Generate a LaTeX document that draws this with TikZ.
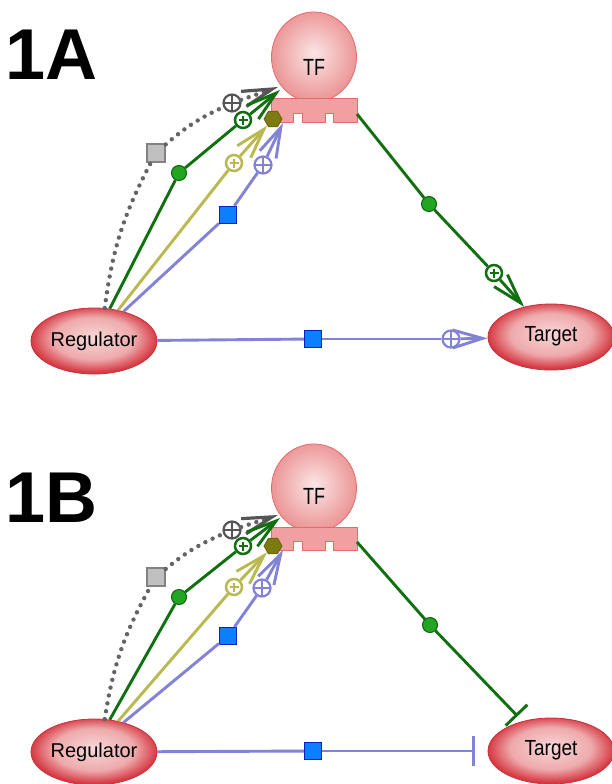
\documentclass[tikz,border=0pt]{standalone}
\usepackage{fontspec}
\setmainfont{Liberation Sans}
\usepackage{graphicx}
\usetikzlibrary{shapes.geometric,arrows.meta}

\definecolor{dgreen}{RGB}{16,112,16}
\definecolor{olv}{RGB}{185,185,80}
\definecolor{lav}{RGB}{130,130,215}
\definecolor{dotgray}{RGB}{100,100,100}
\definecolor{arrgray}{RGB}{85,85,85}
\definecolor{rim}{RGB}{214,58,68}
\definecolor{rimline}{RGB}{200,50,60}
\definecolor{pinkc}{RGB}{248,215,215}
\definecolor{pinkm}{RGB}{238,170,172}
\definecolor{tfrim}{RGB}{236,150,150}
\definecolor{tfc}{RGB}{251,230,230}
\definecolor{tfline}{RGB}{226,108,108}
\definecolor{basefill}{RGB}{240,160,160}
\definecolor{dotfill}{RGB}{34,165,34}
\definecolor{dotline}{RGB}{10,100,10}
\definecolor{sqblue}{RGB}{10,128,255}
\definecolor{sqline}{RGB}{10,30,200}
\definecolor{sqgray}{RGB}{192,192,192}
\definecolor{sqgrayline}{RGB}{130,130,130}
\definecolor{hexfill}{RGB}{125,122,15}
\definecolor{hexline}{RGB}{100,98,10}

\pgfdeclareradialshading{redball}{\pgfpoint{0bp}{3bp}}{color(0bp)=(pinkc); color(16bp)=(pinkm); color(25bp)=(rim); color(50bp)=(rim)}
\pgfdeclareradialshading{tfball}{\pgfpoint{0bp}{2bp}}{color(0bp)=(tfc); color(25bp)=(tfrim); color(50bp)=(tfrim)}

\tikzset{
  ell/.style={ellipse, draw=rimline, line width=0.8pt, shading=redball,
    minimum width=126pt, minimum height=66pt, inner sep=0pt},
  regtext/.style={font=\fontsize{20}{24}\selectfont},
  tfnode/.style={ellipse, draw=tfline, line width=0.8pt, shading=tfball,
    minimum width=85pt, minimum height=90pt, inner sep=0pt},
  tftext/.style={inner sep=0pt, font=\fontsize{18}{20}\selectfont},
  tfbase/.style={draw=tfline, line width=0.8pt, fill=basefill},
  link/.style={line width=2.9pt},
  vee/.style={-{Straight Barb[length=30pt,width=18pt]}},
  tee/.style={-{Bar[width=30pt]}},
  gdot/.style={circle, fill=dotfill, draw=dotline, line width=1pt, minimum size=15pt, inner sep=0pt},
  bsq/.style={rectangle, fill=sqblue, draw=sqline, line width=1.2pt, minimum size=17pt, inner sep=0pt},
  gsq/.style={rectangle, fill=sqgray, draw=sqgrayline, line width=1.4pt, minimum size=18pt, inner sep=0pt},
  hex/.style={regular polygon, regular polygon sides=6, fill=hexfill, draw=hexline, line width=0.8pt, minimum size=18pt, inner sep=0pt},
  cplus/.style={circle, draw=#1, fill=white, line width=2.2pt, minimum size=17pt, inner sep=0pt,
    path picture={\draw[#1, line width=1.8pt] (path picture bounding box.north) -- (path picture bounding box.south) (path picture bounding box.west) -- (path picture bounding box.east);}},
  splus/.style={circle, draw=#1, fill=white, line width=2.5pt, minimum size=16pt, inner sep=0pt,
    path picture={\draw[#1, line width=1.9pt] (path picture bounding box.center) +(0,-4.5) -- +(0,4.5) (path picture bounding box.center) +(-4.5,0) -- +(4.5,0);}},
  dots/.style={dotgray, line width=4.4pt, line cap=round, dash pattern=on 0pt off 8pt},
  grayvee/.style={-{Straight Barb[length=30pt,width=16pt,line width=3.2pt,color=arrgray]}},
  lbl/.style={inner sep=0pt, anchor=base west, font=\fontsize{72}{72}\selectfont\bfseries},
}

\begin{document}
\begin{tikzpicture}[x=1pt,y=-1pt]
\useasboundingbox (0,0) rectangle (611,784);
\fill[white] (0,0) rectangle (611,784);

% ================= Panel 1A =================
\node[lbl] (labA) at (5,80) {1A};

\node[ell] (RegA) at (94,341) {};
\node[regtext] (RegAt) at (RegA.center) {Regulator};
\node[ell] (TarA) at (551,337) {};
\node[regtext] (TarAt) at (551,336) {\fontsize{19}{22}\selectfont\scalebox{1}[1.15]{Target}};

\node[tfnode] (TFA) at (314,57) {};
\draw[tfbase] (271,98) -- (357,98) -- (357,122) -- (333,122) -- (333,113) -- (325,113)
  -- (325,122) -- (302,122) -- (302,113) -- (293,113) -- (293,122) -- (271,122) -- cycle;
\node[tftext] (TFAt) at (314,67) {\scalebox{1}[1.3]{TF}};
\coordinate (TFAout) at (357,114);

\node[gsq] (gsqA) at (156,153) {};
\node[cplus=arrgray] (gpA) at (232,103) {};
\node[gdot] (gdA) at (179,173) {};
\node[splus=dgreen] (gnpA) at (243,120) {};
\node[splus=olv] (opA) at (234,163) {};
\node[hex] (hexA) at (273,119) {};
\node[bsq] (bsqA) at (228,215) {};
\node[cplus=lav] (lpA) at (263,165) {};
\node[gdot] (gd2A) at (429,204) {};
\node[splus=dgreen] (gnp2A) at (494,273) {};
\node[bsq] (bsq2A) at (313,339) {};
\node[cplus=lav] (lp2A) at (451,339) {};
\coordinate (tipGrayA) at (278,87);
\coordinate (tipGreenA) at (280,90);
\coordinate (tipLavA) at (283,123);

\draw[dots] (RegA.72) to[bend left=10] (gsqA);
\draw[dots] (gsqA) to[bend left=8] (gpA);
\draw[dots, grayvee] (gpA) -- (tipGrayA);
\draw[link, dgreen] (RegA.64) -- (gdA);
\draw[link, dgreen] (gdA) -- (gnpA);
\draw[link, dgreen, vee] (gnpA) -- (tipGreenA);
\draw[link, olv] (RegA.52) -- (opA);
\draw[link, olv, vee] (opA) -- (hexA);
\draw[link, lav] (RegA.45) -- (bsqA);
\draw[link, lav] (bsqA) -- (lpA);
\draw[link, lav, vee] (lpA) -- (tipLavA);
\draw[link, dgreen] (TFAout) -- (gd2A);
\draw[link, dgreen] (gd2A) -- (gnp2A);
\draw[link, dgreen, vee] (gnp2A) -- (TarA);
\draw[link, lav] (RegA) -- (bsq2A);
\draw[link, lav] (bsq2A) -- (lp2A);
\draw[link, lav, vee] (lp2A) -- (TarA);

% ================= Panel 1B =================
\node[lbl] (labB) at (5,522) {1B};

\node[ell] (RegB) at (94,752) {};
\node[regtext] (RegBt) at (RegB.center) {Regulator};
\node[ell] (TarB) at (551,751) {};
\node[regtext] (TarBt) at (551,750) {\fontsize{19}{22}\selectfont\scalebox{1}[1.15]{Target}};

\node[tfnode, minimum height=88pt] (TFB) at (314,488) {};
\draw[tfbase] (271,527) -- (357,527) -- (357,550) -- (333,550) -- (333,541) -- (325,541)
  -- (325,550) -- (302,550) -- (302,541) -- (293,541) -- (293,550) -- (271,550) -- cycle;
\node[tftext] (TFBt) at (314,496) {\scalebox{1}[1.3]{TF}};
\coordinate (TFBout) at (357,542);

\node[gsq] (gsqB) at (156,577) {};
\node[cplus=arrgray] (gpB) at (232,530) {};
\node[gdot] (gdB) at (179,597) {};
\node[splus=dgreen] (gnpB) at (243,546) {};
\node[splus=olv] (opB) at (234,587) {};
\node[hex] (hexB) at (273,546) {};
\node[bsq] (bsqB) at (228,636) {};
\node[cplus=lav] (lpB) at (262,588) {};
\node[gdot] (gd2B) at (430,625) {};
\node[bsq] (bsq2B) at (313,751) {};
\coordinate (tipGrayB) at (278,515);
\coordinate (tipGreenB) at (280,518);
\coordinate (tipLavB) at (283,550);

\draw[dots] (RegB.72) to[bend left=10] (gsqB);
\draw[dots] (gsqB) to[bend left=8] (gpB);
\draw[dots, grayvee] (gpB) -- (tipGrayB);
\draw[link, dgreen] (RegB.64) -- (gdB);
\draw[link, dgreen] (gdB) -- (gnpB);
\draw[link, dgreen, vee] (gnpB) -- (tipGreenB);
\draw[link, olv] (RegB.52) -- (opB);
\draw[link, olv, vee] (opB) -- (hexB);
\draw[link, lav] (RegB.45) -- (bsqB);
\draw[link, lav] (bsqB) -- (lpB);
\draw[link, lav, vee] (lpB) -- (tipLavB);
\draw[link, dgreen] (TFBout) -- (gd2B);
\draw[link, dgreen, tee, shorten >=7pt] (gd2B) -- (TarB);
\draw[link, lav] (RegB) -- (bsq2B);
\draw[link, lav, tee, shorten >=13pt] (bsq2B) -- (TarB);
\end{tikzpicture}
\end{document}
